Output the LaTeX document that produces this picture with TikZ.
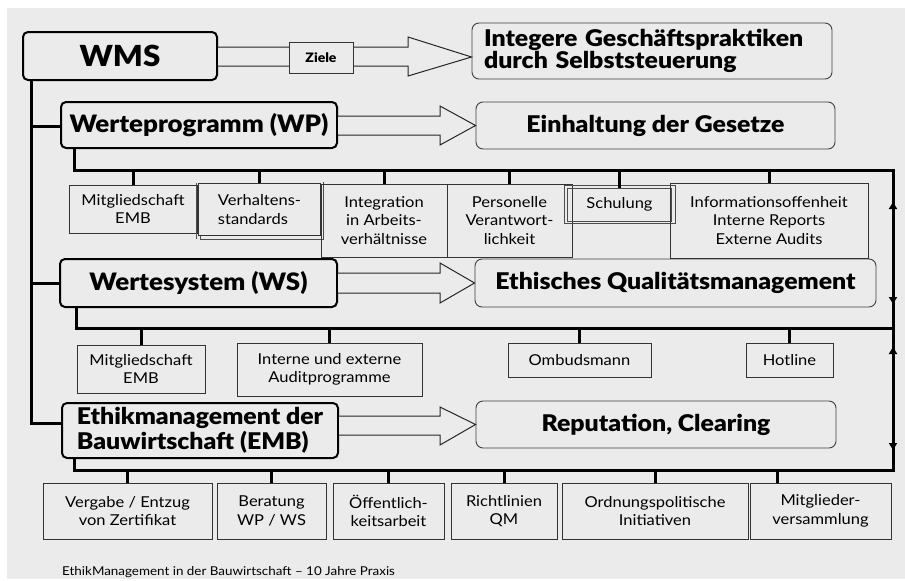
\documentclass[tikz,border=0pt]{standalone}
\usepackage{fontspec}
\setmainfont{Lato}[FakeStretch=1.1]
\newfontfamily\hdfont{Lato}[UprightFont={* Black}, BoldFont={* Black}, FakeStretch=1.08]
\usetikzlibrary{arrows.meta}
\definecolor{bg}{HTML}{EBEBEB}
\begin{document}
\begin{tikzpicture}[x=1pt,y=-1pt,
  mainbox/.style={draw=black, line width=2pt, rounded corners=5pt, inner sep=0pt,
    font=\hdfont\fontsize{24}{25}\selectfont},
  resbox/.style={draw=black!75, line width=0.9pt, rounded corners=7pt, inner sep=0pt,
    font=\hdfont\fontsize{23}{22}\selectfont},
  subbox/.style={draw=black!80, line width=1pt, inner sep=0pt, align=center,
    font=\fontsize{15}{18.5}\selectfont},
  shadowline/.style={draw=black!70, line width=0.7pt},
  bus/.style={line width=3pt},
  tick/.style={line width=3pt},
  blockarrow/.style={draw=black!85, line width=1pt, fill=bg},
  updown/.style={line width=2.4pt, {Triangle[length=7pt,width=8pt]}-{Triangle[length=7pt,width=8pt]}}
]
\useasboundingbox (0,0) rectangle (905,581);
\fill[white] (0,0) rectangle (905,581);
\fill[bg] (7,8) rectangle (905,579);

% ---- main boxes
\node[mainbox, minimum width=194, minimum height=48, font=\hdfont\fontsize{29}{30}\selectfont] (wms) at (120,56) {WMS};
\node[mainbox, minimum width=276, minimum height=46] (wp) at (199,125) {Werteprogramm (WP)};
\node[mainbox, minimum width=277, minimum height=48] (ws) at (198.5,283) {Wertesystem (WS)};
\node[mainbox, minimum width=276, minimum height=55, align=left, font=\hdfont\fontsize{23}{25}\selectfont] (emb) at (200,430.5) {Ethikmanagement der\\Bauwirtschaft (EMB)};

% ---- result boxes
\node[resbox, minimum width=360, minimum height=56, text width=336, align=left, inner xsep=12pt] (ig) at (652,51) {Integere Geschäftspraktiken\\durch Selbststeuerung};
\node[resbox, minimum width=359, minimum height=47] (eg) at (655.5,125.5) {Einhaltung der Gesetze};
\node[resbox, minimum width=401, minimum height=48] (eq) at (675.5,283) {Ethisches Qualitätsmanagement};
\node[resbox, minimum width=360, minimum height=47] (rc) at (656,424.5) {Reputation, Clearing};

% ---- block arrows
\draw[blockarrow] (wms.east |- 0,47) -- (408,47) -- (408,37) -- (ig.west |- 0,57) -- (408,76) -- (408,66) -- (wms.east |- 0,66);
\node[draw=black!80, line width=0.8pt, fill=bg, minimum width=64, minimum height=31, inner sep=0pt, font=\hdfont\fontsize{13}{14}\selectfont] (ziele) at (321,57.5) {Ziele};
\draw[blockarrow] (wp.east |- 0,116) -- (440,116) -- (440,106) -- (eg.west) -- (440,145) -- (440,135) -- (wp.east |- 0,135);
\draw[blockarrow] (ws.east |- 0,273) -- (440,273) -- (440,263) -- (eq.west) -- (440,303) -- (440,293) -- (ws.east |- 0,293);
\draw[blockarrow] (emb.east |- 0,416) -- (440,416) -- (440,407) -- (rc.west) -- (440,445) -- (440,435) -- (emb.east |- 0,435);

% ---- WP children
\node[subbox, minimum width=128, minimum height=48] (p1) at (133,209) {Mitgliedschaft\\EMB};
\node[subbox, minimum width=122, minimum height=52, align=left] (p2) at (259.5,209.5) {Verhaltens-\\standards};
\draw[shadowline] ([xshift=2pt,yshift=1pt]p2.north east) |- ([xshift=2pt,yshift=-3pt]p2.south west) -- ([xshift=2pt]p2.south west);
\draw[shadowline] ([xshift=-2pt]p2.north west) -- ([xshift=-2pt,yshift=-3pt]p2.south west);
\node[subbox, minimum width=126, minimum height=73] (p3) at (384,220.5) {Integration\\in Arbeits-\\verhältnisse};
\node[subbox, minimum width=125, minimum height=73] (p4) at (509.5,220.5) {Personelle\\Verantwort-\\lichkeit};
\node[subbox, minimum width=104, minimum height=33, draw=black!70, line width=0.7pt] (p5) at (619.5,204.5) {Schulung};
\draw[shadowline] ([xshift=-3pt,yshift=2pt]p5.north west) rectangle ([xshift=3pt,yshift=-2pt]p5.south east);
\node[subbox, minimum width=198, minimum height=75] (p6) at (769,220.5) {Informationsoffenheit\\Interne Reports\\Externe Audits};

% ---- WS children
\node[subbox, minimum width=128, minimum height=48] (s1) at (141,369) {Mitgliedschaft\\EMB};
\node[subbox, minimum width=185, minimum height=53] (s2) at (329.5,369.5) {Interne und externe\\Auditprogramme};
\node[subbox, minimum width=143, minimum height=34] (s3) at (579.5,360) {Ombudsmann};
\node[subbox, minimum width=87, minimum height=34] (s4) at (789.5,360) {Hotline};

% ---- EMB children
\node[subbox, minimum width=169, minimum height=56] (e1) at (127.5,511) {Vergabe / Entzug\\von Zertifikat};
\node[subbox, minimum width=109, minimum height=56] (e2) at (271.5,511) {Beratung\\WP / WS};
\node[subbox, minimum width=111, minimum height=56] (e3) at (388.5,511) {Öffentlich-\\keitsarbeit};
\node[subbox, minimum width=106, minimum height=56] (e4) at (504,511) {Richtlinien\\QM};
\node[subbox, minimum width=186, minimum height=56] (e5) at (655,511) {Ordnungspolitische\\Initiativen};
\node[subbox, minimum width=141, minimum height=56] (e6) at (820.5,511) {Mitglieder-\\versammlung};

% ---- bus coordinates
\coordinate (r1) at (893,170);
\coordinate (r2) at (893,328);
\coordinate (r3) at (893,470);
\coordinate (t0) at (31,80);
\coordinate (t3) at (31,423);

% trunk on the left
\draw[bus] (t0) -- (t3) -- (emb.west |- t3);
\draw[bus] (t0 |- 0,126) -- (wp.west |- 0,126);
\draw[bus] (t0 |- ws.west) -- (ws.west);

% buses
\draw[bus] (wp.south -| 74,0) |- (r1) -- (r3) -| (emb.south -| 74,0);
\draw[bus] (ws.south -| 76,0) |- (r2);

% up/down arrows on the right line
\draw[updown] (893,202) -- (893,304);
\draw[updown] (893,347) -- (893,450);

% ticks
\foreach \n in {p1,p2,p3,p4,p5,p6} \draw[tick] (\n.north) -- (\n.north |- r1);
\foreach \n in {s1,s2,s3,s4} \draw[tick] (\n.north) -- (\n.north |- r2);
\foreach \n in {e1,e2,e3,e4,e5} \draw[tick] (\n.north) -- (\n.north |- r3);
\coordinate (e6t) at (777,470);
\draw[tick] (e6t) -- (e6t |- e6.north);

% footer
\node[anchor=west, inner sep=0pt, font=\fontsize{12.2}{14}\selectfont] (foot) at (62,572) {EthikManagement in der Bauwirtschaft -- 10 Jahre Praxis};
\end{tikzpicture}
\end{document}
